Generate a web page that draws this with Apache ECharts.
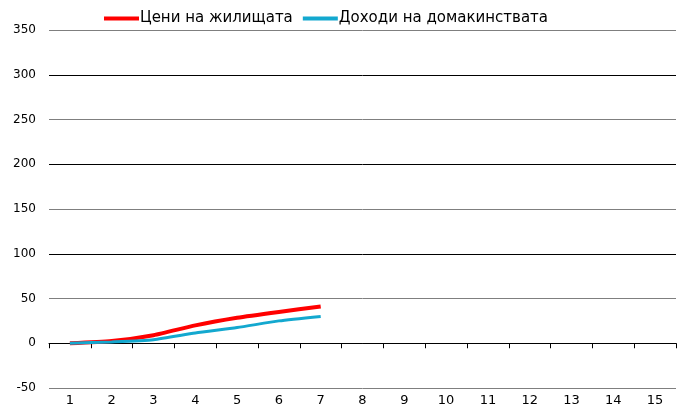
<!DOCTYPE html>
<html>
<head>
<meta charset="utf-8">
<script src="https://cdn.jsdelivr.net/npm/echarts@6/dist/echarts.min.js"></script>
<style>
  html, body { margin: 0; padding: 0; background: #fff; }
  #chart { width: 684px; height: 410px; }
</style>
</head>
<body>
<div id="chart"></div>
<script>
// Horizon categories (years from the start)
const categories = ['1','2','3','4','5','6','7','8','9','10','11','12','13','14','15'];
// Cumulative growth, %
const housingPrices = [0, 2.5, 9, 20, 28.5, 35, 41];
const householdIncome = [0, 1.5, 4, 11.5, 17.5, 25, 30];
const seriesNames = ['Цени на жилищата', 'Доходи на домакинствата'];

const chart = echarts.init(document.getElementById('chart'), null, { renderer: 'canvas' });

chart.setOption({
  animation: false,
  backgroundColor: '#fff',
  legend: {
    top: 6,
    left: 99,
    icon: 'rect',
    itemWidth: 35,
    itemHeight: 4,
    itemGap: 10,
    textStyle: {
      fontFamily: 'DejaVu Sans',
      fontSize: 15,
      color: '#000',
      padding: [0, 0, 0, -4]
    },
    data: seriesNames
  },
  grid: { left: 49, right: 8, top: 30, bottom: 22 },
  xAxis: [
    {
      type: 'category',
      data: categories,
      boundaryGap: true,
      axisLine: { onZero: true, lineStyle: { color: '#000', width: 1 } },
      axisTick: { show: true, length: 5, lineStyle: { color: '#000' } },
      axisLabel: { show: false },
      splitLine: { show: false }
    },
    {
      type: 'category',
      data: categories,
      position: 'bottom',
      boundaryGap: true,
      axisLine: { show: false, onZero: false },
      axisTick: { show: false },
      axisLabel: {
        margin: 6,
        fontFamily: 'DejaVu Sans',
        fontSize: 13,
        color: '#000'
      },
      splitLine: { show: false }
    }
  ],
  yAxis: {
    type: 'value',
    min: -50,
    max: 350,
    interval: 50,
    axisLine: { show: false },
    axisTick: { show: false },
    axisLabel: {
      margin: 13,
      fontFamily: 'DejaVu Sans',
      fontSize: 12,
      color: '#000'
    },
    splitLine: {
      show: true,
      lineStyle: { color: ['#7f7f7f', '#000'], width: 1 }
    }
  },
  series: [
    {
      name: seriesNames[0],
      type: 'line',
      data: housingPrices,
      xAxisIndex: 0,
      symbol: 'none',
      smooth: 0.2,
      lineStyle: { color: '#ff0000', width: 4 },
      itemStyle: { color: '#ff0000' },
      z: 3
    },
    {
      name: seriesNames[1],
      type: 'line',
      data: householdIncome,
      xAxisIndex: 0,
      symbol: 'none',
      smooth: 0.2,
      lineStyle: { color: '#13a8cf', width: 3 },
      itemStyle: { color: '#13a8cf' },
      z: 4
    }
  ]
});
</script>
</body>
</html>
